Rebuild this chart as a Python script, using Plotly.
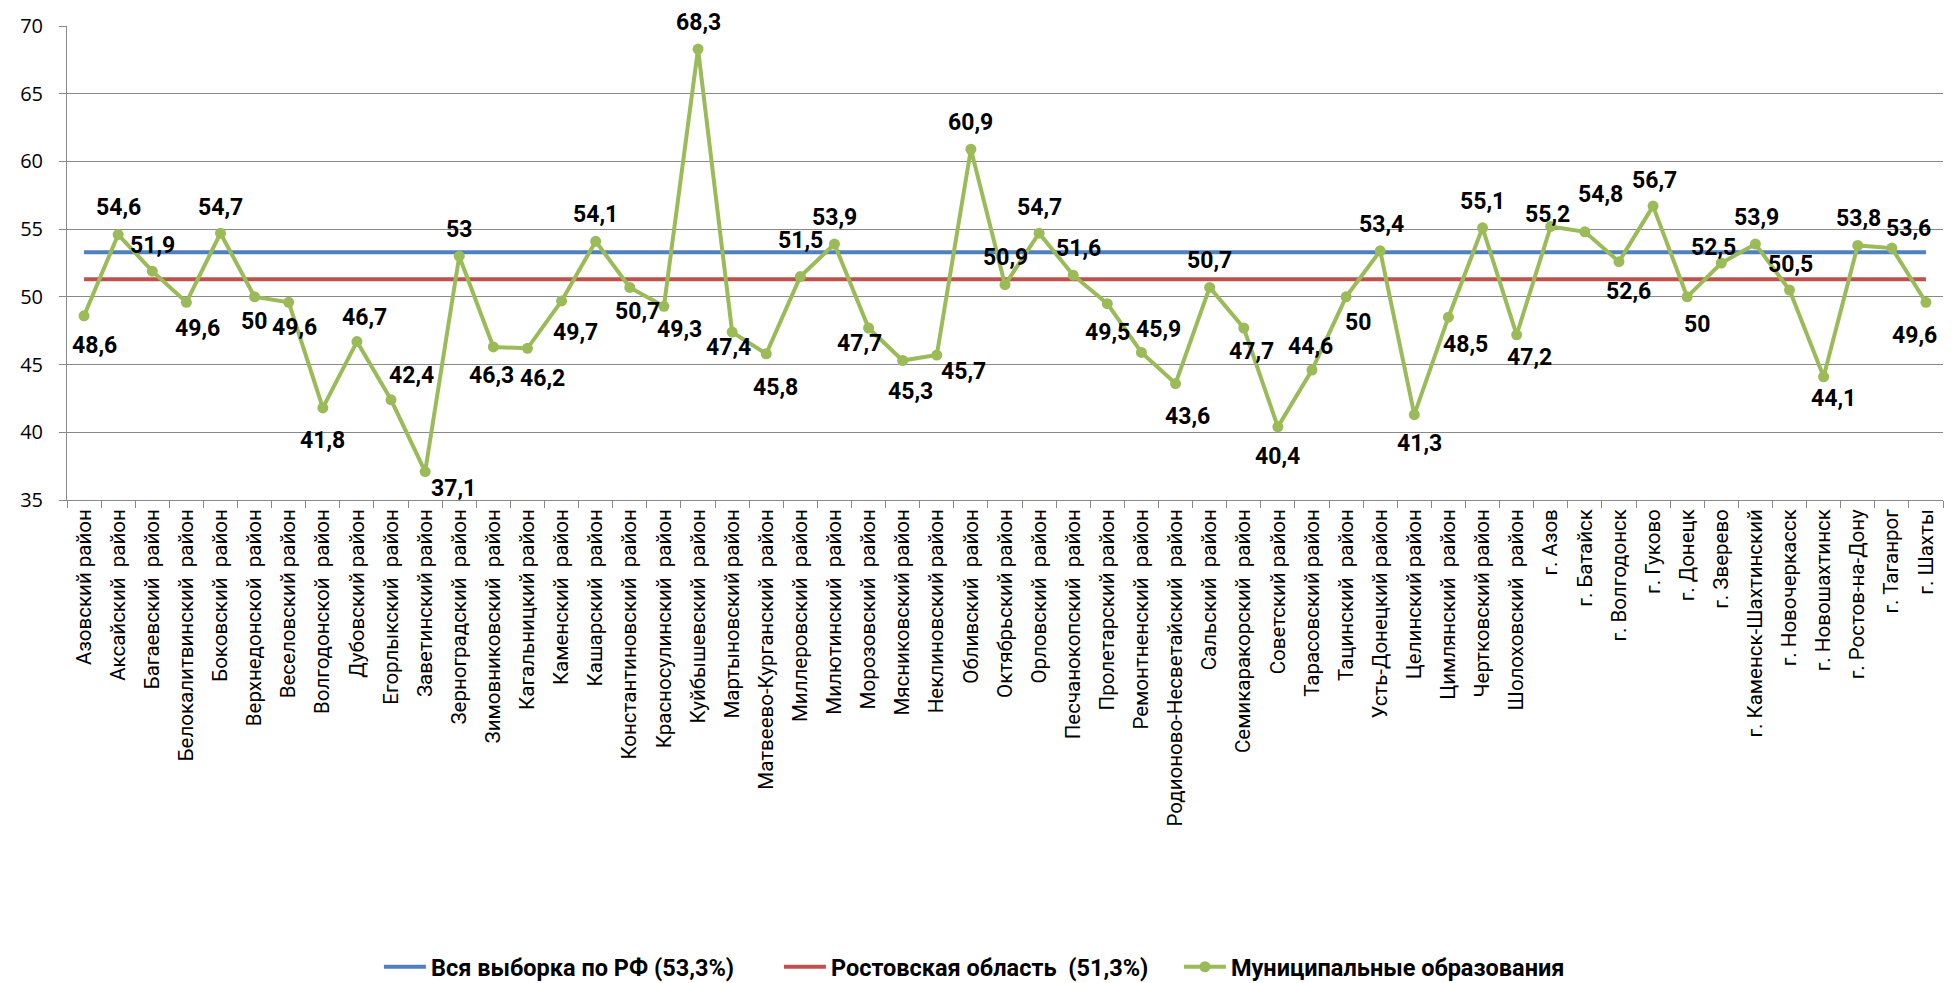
import plotly.graph_objects as go

categories = [
    "Азовский район", "Аксайский  район", "Багаевский  район", "Белокалитвинский  район",
    "Боковский  район", "Верхнедонской  район", "Веселовский район", "Волгодонской  район",
    "Дубовский район", "Егорлыкский  район", "Заветинский район", "Зерноградский  район",
    "Зимовниковский  район", "Кагальницкий район", "Каменский  район", "Кашарский  район",
    "Константиновский  район", "Красносулинский  район", "Куйбышевский  район",
    "Мартыновский район", "Матвеево-Курганский  район", "Миллеровский  район",
    "Милютинский  район", "Морозовский  район", "Мясниковский район", "Неклиновский район",
    "Обливский  район", "Октябрьский район", "Орловский  район", "Песчанокопский  район",
    "Пролетарский район", "Ремонтненский  район", "Родионово-Несветайский  район",
    "Сальский  район", "Семикаракорский  район", "Советский район", "Тарасовский район",
    "Тацинский  район", "Усть-Донецкий район", "Целинский район", "Цимлянский  район",
    "Чертковский район", "Шолоховский  район", "г. Азов", "г. Батайск", "г. Волгодонск",
    "г. Гуково", "г. Донецк", "г. Зверево", "г. Каменск-Шахтинский", "г. Новочеркасск",
    "г. Новошахтинск", "г. Ростов-на-Дону", "г. Таганрог", "г. Шахты",
]

municipal_values = [
    48.6, 54.6, 51.9, 49.6, 54.7, 50, 49.6, 41.8, 46.7, 42.4,
    37.1, 53, 46.3, 46.2, 49.7, 54.1, 50.7, 49.3, 68.3, 47.4,
    45.8, 51.5, 53.9, 47.7, 45.3, 45.7, 60.9, 50.9, 54.7, 51.6,
    49.5, 45.9, 43.6, 50.7, 47.7, 40.4, 44.6, 50, 53.4, 41.3,
    48.5, 55.1, 47.2, 55.2, 54.8, 52.6, 56.7, 50, 52.5, 53.9,
    50.5, 44.1, 53.8, 53.6, 49.6,
]

rf_value = 53.3
rostov_value = 51.3

series_names = [
    "Вся выборка по РФ (53,3%)",
    "Ростовская область  (51,3%)",
    "Муниципальные образования",
]

y_ticks = [35, 40, 45, 50, 55, 60, 65, 70]

# label offsets in pixels (dx right, dy down) for each data label
label_offsets = [
    (10, 30), (0, -27), (0, -26), (11, 26), (0, -26), (-1, 25), (6, 25), (0, 33),
    (8, -24), (20, -24), (28, 17), (0, -27), (-2, 29), (15, 30), (14, 32), (0, -27),
    (8, 24), (16, 23), (0, -27), (-4, 15), (9, 34), (0, -36), (0, -27), (-9, 15),
    (8, 31), (27, 16), (0, -27), (0, -27), (0, -26), (5, -27), (0, 29), (17, -23),
    (12, 33), (0, -27), (8, 23), (0, 30), (-1, -23), (12, 26), (1, -26), (5, 29),
    (17, 27), (0, -26), (13, 23), (-3, -12), (16, -37), (10, 30), (1, -26), (10, 28),
    (-8, -16), (1, -27), (1, -26), (10, 22), (1, -27), (17, -20), (-11, 33),
]

def disp(s):
    return s.replace("  ", "\u00a0 ")

x_cats = [disp(c) for c in categories]
legend_names = [disp(n) for n in series_names]

BLUE = "#4F81BD"
RED = "#C0504D"
GREEN = "#9BBB59"
GRID = "#898989"
TXT = "Roboto"

fig = go.Figure()
fig.add_trace(go.Scatter(
    x=x_cats, y=[rf_value] * len(categories), mode="lines",
    name=legend_names[0], line=dict(color=BLUE, width=4),
))
fig.add_trace(go.Scatter(
    x=x_cats, y=[rostov_value] * len(categories), mode="lines",
    name=legend_names[1], line=dict(color=RED, width=4),
))
fig.add_trace(go.Scatter(
    x=x_cats, y=municipal_values, mode="lines+markers",
    name=legend_names[2], line=dict(color=GREEN, width=4),
    marker=dict(color=GREEN, size=11, symbol="circle"),
))

for xc, v, (dx, dy) in zip(x_cats, municipal_values, label_offsets):
    txt = ("%g" % v).replace(".", ",")
    fig.add_annotation(
        x=xc, y=v, text="<b>" + txt + "</b>", showarrow=False,
        xshift=dx, yshift=-dy,
        font=dict(family=TXT, size=23, color="#000000"),
        xanchor="center", yanchor="middle",
    )

fig.update_layout(
    width=1952, height=983,
    margin=dict(l=59, r=17, t=18, b=491, autoexpand=False),
    paper_bgcolor="white", plot_bgcolor="white",
    showlegend=True,
    legend=dict(
        orientation="h", x=0.4861, xanchor="center", y=-0.9852, yanchor="middle",
        font=dict(family=TXT, size=23.5, color="#000000", weight="bold"),
        entrywidth=343, entrywidthmode="pixels",
        itemwidth=42,
    ),
)
fig.update_xaxes(
    type="category", tickmode="linear", dtick=1, tick0=0, automargin=False,
    tickangle=-90, tickson="boundaries", ticks="outside", ticklen=7,
    tickcolor=GRID, showline=True, linecolor=GRID, linewidth=1,
    showgrid=False, zeroline=False,
    tickfont=dict(family=TXT, size=20.5, color="#000000"),
    range=[-0.5, len(categories) - 0.5],
)
fig.update_yaxes(
    range=[35, 70], tickmode="array", tickvals=y_ticks, automargin=False,
    ticktext=[str(t) for t in y_ticks], ticklabeloverflow="allow",
    ticks="outside", ticklen=7, tickcolor=GRID,
    showline=True, linecolor=GRID, linewidth=1,
    showgrid=True, gridcolor=GRID, gridwidth=1, zeroline=False,
    tickfont=dict(family="Open Sans", size=20, color="#000000"),
    ticklabelstandoff=12,
)

fig.write_html("out.html")
